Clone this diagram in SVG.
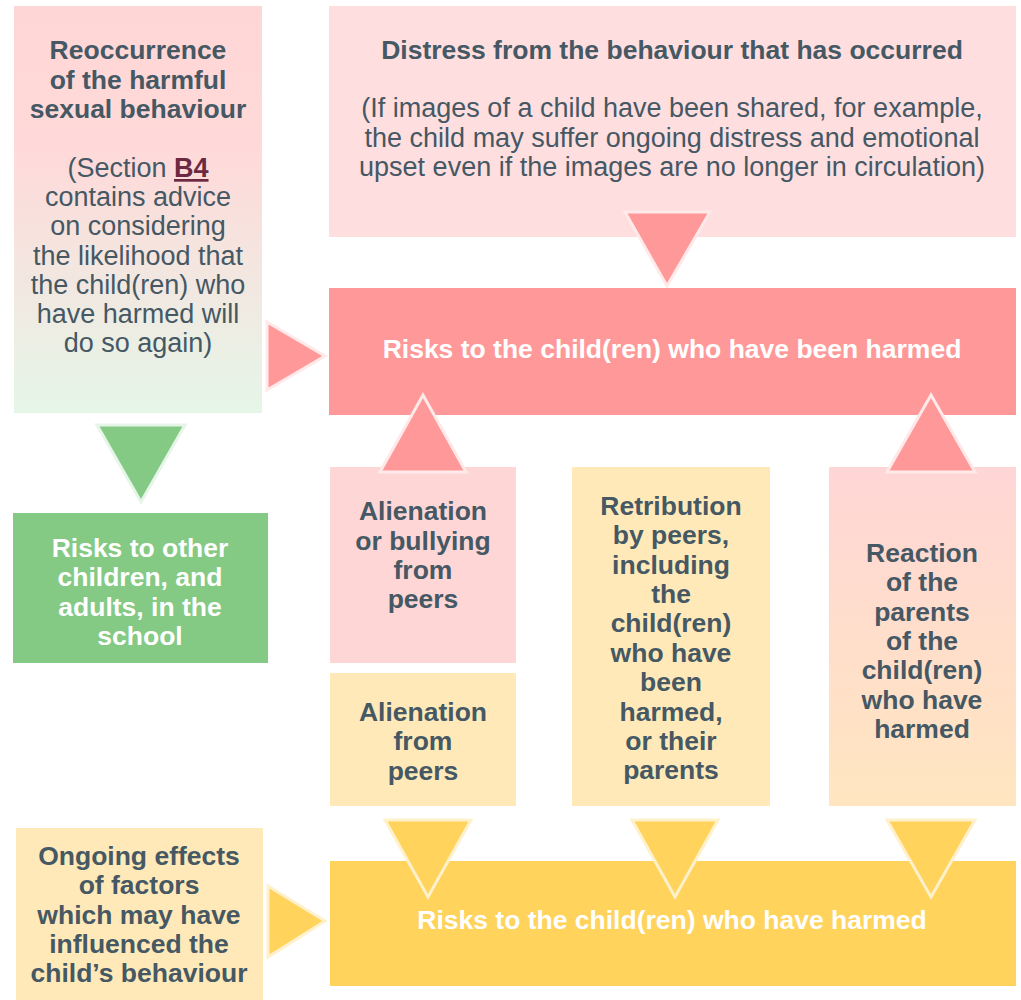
<svg xmlns="http://www.w3.org/2000/svg" width="1021" height="1000" viewBox="0 0 1021 1000">
<defs>
<linearGradient id="gTL" x1="0" y1="0" x2="0" y2="1">
<stop offset="0" stop-color="#FFD6D6"/><stop offset="0.35" stop-color="#FFD9D9"/><stop offset="1" stop-color="#E5F6E8"/>
</linearGradient>
<linearGradient id="gR" x1="0" y1="0" x2="0" y2="1">
<stop offset="0" stop-color="#FFD6D6"/><stop offset="1" stop-color="#FFE6C0"/>
</linearGradient>
<style>
text{font-family:"Liberation Sans",Arial,sans-serif;font-size:27px;text-anchor:middle;fill:#455864}
.b{font-weight:bold;font-size:26.5px}
.w{fill:#ffffff;font-weight:bold;font-size:26.5px}
.tp{fill:#FF9999;stroke:#FFE9E9;stroke-width:3}
.tg{fill:#84C984;stroke:#E5F6E8;stroke-width:3}
.ty{fill:#FFD35C;stroke:#FFF1CC;stroke-width:3}
</style>
</defs>
<g id="connectors">
<polygon class="tp" points="267,322 267,390 325,356"/>
<polygon class="tg" points="97,425 185,425 141,502"/>
</g>
<g id="node-reoccurrence">
<rect x="14" y="6" width="248" height="407" fill="url(#gTL)"/>
<text x="138" y="59" class="b">Reoccurrence</text>
<text x="138" y="89" class="b">of the harmful</text>
<text x="138" y="118" class="b">sexual behaviour</text>
<text x="138" y="177">(Section <tspan font-weight="bold" fill="#6B2A42" text-decoration="underline">B4</tspan></text>
<text x="138" y="206">contains advice</text>
<text x="138" y="235">on considering</text>
<text x="138" y="265">the likelihood that</text>
<text x="138" y="294">the child(ren) who</text>
<text x="138" y="323">have harmed will</text>
<text x="138" y="352">do so again)</text>
</g>
<g id="node-distress">
<rect x="329" y="6" width="687" height="231" fill="#FFDEDF"/>
<text x="672" y="59" class="b">Distress from the behaviour that has occurred</text>
<text x="672" y="117">(If images of a child have been shared, for example,</text>
<text x="672" y="147">the child may suffer ongoing distress and emotional</text>
<text x="672" y="176">upset even if the images are no longer in circulation)</text>
</g>
<polygon class="tp" points="625,212 710,212 667,286"/>
<g id="node-risks-harmed">
<rect x="329" y="288" width="687" height="127" fill="#FF9999"/>
<text x="672" y="358" class="w">Risks to the child(ren) who have been harmed</text>
</g>
<g id="node-other">
<rect x="13" y="513" width="255" height="150" fill="#84C984"/>
<text x="140" y="557" class="w">Risks to other</text>
<text x="140" y="586" class="w">children, and</text>
<text x="140" y="616" class="w">adults, in the</text>
<text x="140" y="645" class="w">school</text>
</g>
<g id="node-bullying">
<rect x="330" y="467" width="186" height="196" fill="#FFD6D6"/>
<text x="423" y="520" class="b">Alienation</text>
<text x="423" y="550" class="b">or bullying</text>
<text x="423" y="579" class="b">from</text>
<text x="423" y="608" class="b">peers</text>
</g>
<g id="node-alienation">
<rect x="330" y="673" width="186" height="133" fill="#FFE9B8"/>
<text x="423" y="721" class="b">Alienation</text>
<text x="423" y="750" class="b">from</text>
<text x="423" y="780" class="b">peers</text>
</g>
<g id="node-retribution">
<rect x="572" y="467" width="198" height="339" fill="#FFE9B8"/>
<text x="671" y="515" class="b">Retribution</text>
<text x="671" y="544" class="b">by peers,</text>
<text x="671" y="574" class="b">including</text>
<text x="671" y="603" class="b">the</text>
<text x="671" y="632" class="b">child(ren)</text>
<text x="671" y="662" class="b">who have</text>
<text x="671" y="691" class="b">been</text>
<text x="671" y="721" class="b">harmed,</text>
<text x="671" y="750" class="b">or their</text>
<text x="671" y="779" class="b">parents</text>
</g>
<g id="node-reaction">
<rect x="829" y="467" width="187" height="339" fill="url(#gR)"/>
<text x="922" y="562" class="b">Reaction</text>
<text x="922" y="591" class="b">of the</text>
<text x="922" y="621" class="b">parents</text>
<text x="922" y="650" class="b">of the</text>
<text x="922" y="679" class="b">child(ren)</text>
<text x="922" y="709" class="b">who have</text>
<text x="922" y="738" class="b">harmed</text>
</g>
<g id="node-ongoing">
<rect x="16" y="828" width="247" height="172" fill="#FFE9B8"/>
<text x="139" y="865" class="b">Ongoing effects</text>
<text x="139" y="894" class="b">of factors</text>
<text x="139" y="924" class="b">which may have</text>
<text x="139" y="953" class="b">influenced the</text>
<text x="139" y="982" class="b">child’s behaviour</text>
</g>
<g id="node-risks-harmers">
<rect x="330" y="861" width="686" height="125" fill="#FFD35C"/>
<text x="672" y="929" class="w">Risks to the child(ren) who have harmed</text>
</g>
<g id="arrows-top">
<polygon class="tp" points="380,472 466,472 423,395"/>
<polygon class="tp" points="887,472 975,472 931,395"/>
<polygon class="ty" points="268,886 268,957 325,921"/>
<polygon class="ty" points="385,820 471,820 428,897"/>
<polygon class="ty" points="632,820 718,820 675,897"/>
<polygon class="ty" points="887,820 975,820 931,897"/>
</g>
</svg>
